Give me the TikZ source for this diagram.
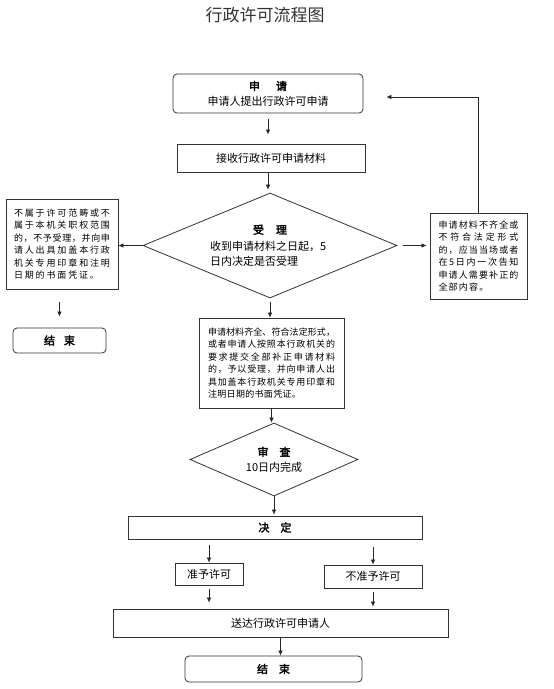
\documentclass[tikz,border=0pt]{standalone}
\usepackage{fontspec}
\setmainfont{Noto Sans CJK SC}[AutoFakeBold=2.5]
\usepackage{tikz}
\usetikzlibrary{arrows.meta,positioning,shapes.geometric,calc}

% one line of a note, spread over a given width
\newcommand\jl[2]{\makebox[#1pt][s]{\jlfirst#2\relax}}
\def\jlfirst#1{#1\jlloop}
\def\jlloop#1{\ifx#1\relax\else\hfil#1\expandafter\jlloop\fi}

\begin{document}
\begin{tikzpicture}[x=1pt, y=-1pt,
plainbox/.style={draw=black!80, line width=0.8pt, align=center, inner sep=1pt, font=\fontsize{11}{15}\selectfont},
roundbox/.style={plainbox, rounded corners=4pt},
decision/.style={draw=black!80, line width=0.8pt, diamond, inner sep=0pt, font=\fontsize{11}{15}\selectfont},
note/.style={draw=black!80, line width=0.8pt, align=left, inner sep=1pt, font=\fontsize{9}{12.4}\selectfont},
arrow/.style={-{Latex[length=5pt,width=4.5pt]}, line width=0.7pt, black!85}
]
\path[fill=white, use as bounding box] (0,0) rectangle (554,689);

\node[font=\fontsize{17}{20}\selectfont, text=black!80] (title) at (265,15) {行政许可流程图};

\node[roundbox, minimum width=190pt, minimum height=39pt] (apply) at (268,93.5) {\textbf{申\hspace{16pt}请}\\申请人提出行政许可申请};
\node[plainbox, minimum width=188pt, minimum height=28pt] (receive) at (271,158) {接收行政许可申请材料};
\node[decision, minimum width=254pt, minimum height=105pt, aspect=2.4, align=left] (accept) at (270,245.5)
  {\makebox[120pt]{\textbf{受\hspace{12pt}理}}\\[1.5pt]收到申请材料之日起，5\\日内决定是否受理};

\node[note, minimum width=112pt, minimum height=90pt] (reject) at (62,244)
  {\jl{96}{不属于许可范畴或不}\\\jl{96}{属于本机关职权范围}\\\jl{96}{的，不予受理，并向申}\\
   \jl{96}{请人出具加盖本行政}\\\jl{96}{机关专用印章和注明}\\\jl{85}{日期的书面凭证。}};
\node[roundbox, minimum width=93pt, minimum height=25pt] (endA) at (59.5,340.5) {\textbf{结\hspace{9pt}束}};

\node[note, minimum width=97pt, minimum height=86pt] (supply) at (478.5,256)
  {\jl{80}{申请材料不齐全或}\\\jl{80}{不符合法定形式}\\\jl{80}{的，应当当场或者}\\
   \jl{80}{在5日内一次告知}\\\jl{80}{申请人需要补正的}\\\jl{50}{全部内容。}};

\node[note, minimum width=145pt, minimum height=90pt] (accepted) at (271.5,363)
  {\jl{127}{申请材料齐全、符合法定形式，}\\\jl{127}{或者申请人按照本行政机关的}\\\jl{127}{要求提交全部补正申请材料}\\
   \jl{127}{的，予以受理，并向申请人出}\\\jl{127}{具加盖本行政机关专用印章和}\\\jl{93}{注明日期的书面凭证。}};

\node[decision, minimum width=168pt, minimum height=73pt, aspect=2.3, align=center] (review) at (274,459.5)
  {\textbf{审\hspace{11pt}查}\\10日内完成};
\node[plainbox, minimum width=294pt, minimum height=23pt] (decide) at (275,527.5) {\textbf{决\hspace{11pt}定}};
\node[plainbox, minimum width=68pt, minimum height=22pt] (grant) at (209,574) {准予许可};
\node[plainbox, minimum width=98pt, minimum height=23pt] (deny) at (373,576.5) {不准予许可};
\node[plainbox, minimum width=335pt, minimum height=28pt] (deliver) at (280.5,623) {送达行政许可申请人};
\node[roundbox, minimum width=177pt, minimum height=26pt] (endB) at (273.5,669) {\textbf{结\hspace{11pt}束}};

\draw[arrow, shorten <=6pt, shorten >=9pt] (apply.south) -- (apply.south |- receive.north);
\draw[arrow, shorten <=1pt, shorten >=3pt] (apply.south |- receive.south) -- (apply.south |- accept.north);
\draw[arrow] (accept.west) -- (reject.east |- accept.west);
\draw[arrow, shorten <=13pt, shorten >=11pt] (endA.north |- reject.south) -- (endA.north);
\draw[arrow, shorten <=6pt, shorten >=3pt] (accept.east) -- (accept.east -| supply.west);
\draw[arrow, shorten >=23pt] (supply.north) |- ([yshift=-3.5pt]apply.east);
\draw[arrow, shorten <=4pt] (accept.south) -- (accept.south |- accepted.north);
\draw[arrow] (accepted.south) -- (accepted.south |- review.north);
\draw[arrow, shorten >=1pt] (review.south) -- (review.south |- decide.north);
\draw[arrow, shorten <=6pt] (grant.north |- decide.south) -- (grant.north);
\draw[arrow, shorten <=8pt] (deny.north |- decide.south) -- (deny.north);
\draw[arrow, shorten <=4pt, shorten >=6pt] (grant.south) -- (grant.south |- deliver.north);
\draw[arrow, shorten <=4pt, shorten >=2pt] (deny.south) -- (deny.south |- deliver.north);
\draw[arrow, shorten <=1pt] (deliver.south) -- (deliver.south |- endB.north);
\end{tikzpicture}
\end{document}
